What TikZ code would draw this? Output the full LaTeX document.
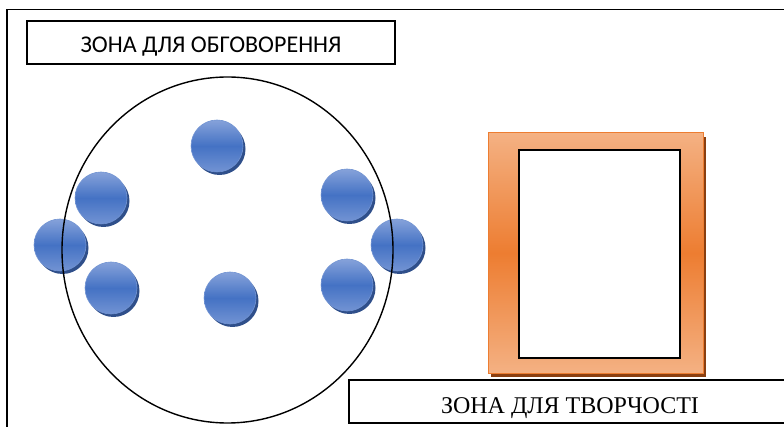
\documentclass[tikz,border=0pt]{standalone}
\usepackage{fontspec}
\newfontfamily\zonesans{Carlito}
\newfontfamily\zoneserif{Liberation Serif}
\usetikzlibrary{shadows,shapes.geometric}
\definecolor{btnLight}{HTML}{86A2DA}
\definecolor{btnMid}{HTML}{4472C4}
\definecolor{btnLow}{HTML}{7293D3}
\definecolor{btnShadow}{HTML}{2F4F8A}
\definecolor{frameLight}{HTML}{F4B183}
\definecolor{frameDark}{HTML}{ED7D31}
\definecolor{frameShadow}{HTML}{8A3F10}
\tikzset{
  outline/.style={draw=black, line width=1.4pt},
  labelbox/.style={draw=black, line width=1.4pt, fill=white},
  seat/.style={circle, minimum size=52pt, inner sep=0pt,
    draw=btnLight!70!btnMid, line width=0.6pt,
    top color=btnLight, bottom color=btnLow, middle color=btnMid,
    drop shadow={shadow xshift=2.5pt, shadow yshift=-3pt, fill=btnShadow, opacity=1}},
}
\begin{document}
\begin{tikzpicture}[x=1pt, y=-1pt]
\useasboundingbox (0,0) rectangle (784,427);
\clip (0,0) rectangle (784,427);
% outer room border (runs off the page to the right and below)
\draw[outline] (7,440) -- (7,9.5) -- (800,9.5);

% discussion zone
\draw[labelbox] (27,21) rectangle (395,64);
\node[anchor=base, font=\zonesans\fontsize{24}{28}\selectfont] (ztop) at (211,53) {ЗОНА ДЛЯ ОБГОВОРЕННЯ};
\coordinate (table) at (227.5,250);

% seats
\node[seat] (s1) at (217,146) {};
\node[seat] (s2) at (101,198) {};
\node[seat] (s3) at (347,195) {};
\node[seat] (s4) at (60,245) {};
\node[seat] (s5) at (397,245) {};
\node[seat] (s6) at (111,288) {};
\node[seat] (s7) at (230,298) {};
\node[seat] (s8) at (347,285) {};
% table outline passes over the outer seats
\draw[line width=1.4pt] (table) ellipse [x radius=165.5pt, y radius=173pt];

% creative zone board
\fill[frameShadow] (491,137) rectangle (706,377);
\shade[top color=frameLight, bottom color=frameLight, middle color=frameDark, draw=frameDark, line width=1pt] (488,133) rectangle (703,373);
\draw[fill=white, draw=black, line width=1.5pt] (519,150) rectangle (680,358);

\draw[labelbox] (349,380) rectangle (800,423);
\node[anchor=base, font=\zoneserif\fontsize{24}{28}\selectfont] (zbot) at (570,413) {ЗОНА ДЛЯ ТВОРЧОСТІ};
\end{tikzpicture}
\end{document}
